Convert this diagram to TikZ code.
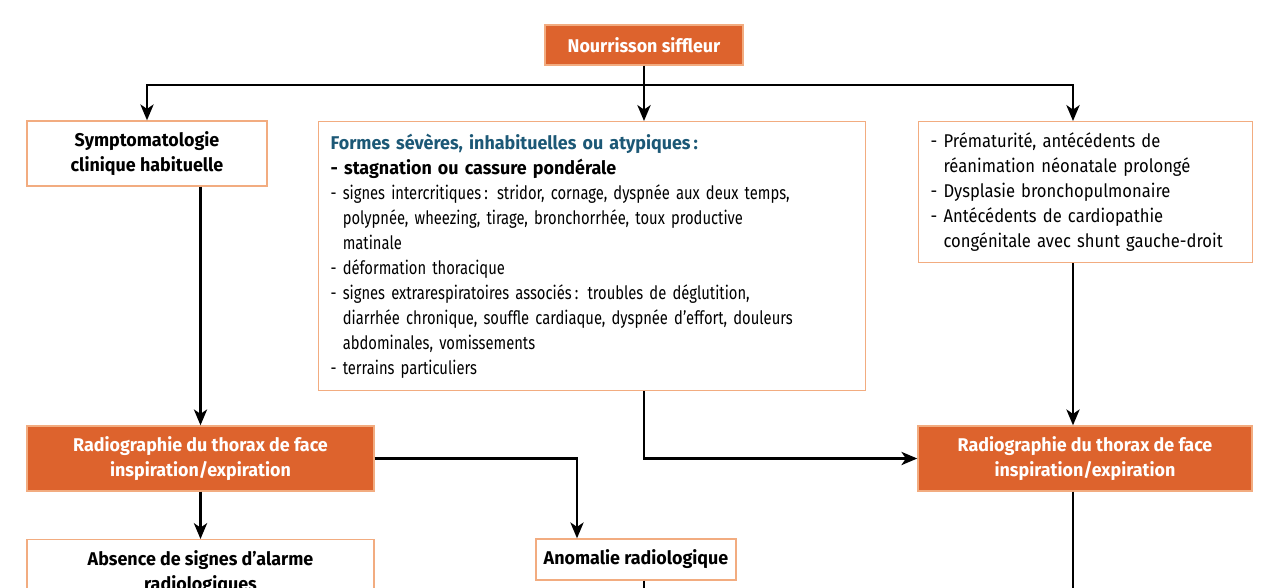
\documentclass[tikz,border=0pt]{standalone}
\usepackage{fontspec}
\setmainfont{Fira Sans}[UprightFeatures={FakeStretch=0.80}, BoldFeatures={FakeStretch=0.97}]
\newfontfamily\policelarge{Fira Sans}[FakeStretch=0.90]
\usepackage{xcolor}
\usepackage{tikz}
\definecolor{orangefonce}{RGB}{221, 99, 45}
\definecolor{orangeclair}{RGB}{242, 172, 128}
\definecolor{bleutitre}{RGB}{28, 88, 118}
\usetikzlibrary{arrows.meta, positioning, calc}
\newcommand{\retrait}{\hphantom{-\ }}

\begin{document}
\begin{tikzpicture}[
    orangebox/.style={rectangle, draw=orangeclair, line width=0.8pt, fill=orangefonce, text=white, font=\fontsize{10.5}{14.2}\selectfont\bfseries, align=center},
    blancbox/.style={rectangle, draw=orangeclair, line width=0.8pt, fill=white, font=\fontsize{10.5}{14.2}\selectfont\bfseries, align=center},
    listebox/.style={rectangle, draw=orangeclair, line width=0.8pt, fill=white, font=\fontsize{10.5}{14.2}\selectfont, align=left, anchor=north west, inner xsep=0.24cm},
    trait/.style={line width=1.4pt},
    fleche/.style={-{Stealth[length=9pt, width=7.5pt, inset=2.5pt]}, line width=1.4pt}
]
    \path[use as bounding box, clip] (0,0) rectangle (25.6,-11.74);

    % Depart
    \node[orangebox, minimum width=3.96cm, minimum height=0.8cm] (nourrisson) at (12.88,-0.9) {Nourrisson siffleur};

    % Trois situations
    \node[blancbox, minimum width=4.8cm, minimum height=1.3cm] (sympto) at (2.94,-3.07) {Symptomatologie\\clinique habituelle};
    \node[listebox, text width=10.46cm, minimum height=5.38cm] (formes) at (6.36,-2.42) {%
        {\color{bleutitre}\bfseries Formes sévères, inhabituelles ou atypiques\,:}\\
        \textbf{- stagnation ou cassure pondérale}\\
        - signes intercritiques\,: stridor, cornage, dyspnée aux deux temps,\\
        \retrait polypnée, wheezing, tirage, bronchorrhée, toux productive\\
        \retrait matinale\\
        - déformation thoracique\\
        - signes extrarespiratoires associés\,: troubles de déglutition,\\
        \retrait diarrhée chronique, souffle cardiaque, dyspnée d’effort, douleurs\\
        \retrait abdominales, vomissements\\
        - terrains particuliers};
    \node[listebox, text width=6.2cm, minimum height=2.82cm, font=\fontsize{10.5}{14.2}\policelarge] (terrain) at (18.36,-2.42) {%
        - Prématurité, antécédents de\\
        \retrait réanimation néonatale prolongé\\
        - Dysplasie bronchopulmonaire\\
        - Antécédents de cardiopathie\\
        \retrait congénitale avec shunt gauche-droit};

    % Radiographies
    \node[orangebox, minimum width=6.94cm, minimum height=1.3cm] (radioG) at (4.01,-9.17) {Radiographie du thorax de face\\inspiration/expiration};
    \node[orangebox, minimum width=6.68cm, minimum height=1.3cm] (radioD) at (21.70,-9.17) {Radiographie du thorax de face\\inspiration/expiration};

    % Resultats
    \node[blancbox, minimum width=6.94cm, minimum height=1.3cm, anchor=north] (absence) at (4.01,-10.78) {Absence de signes d’alarme\\radiologiques};
    \node[blancbox, minimum width=4.0cm, minimum height=0.82cm] (anomalie) at (12.72,-11.19) {Anomalie radiologique};

    % Connecteurs
    \coordinate (bus) at (12.88,-1.7);
    \coordinate (colD) at (21.46,-1.7);
    \draw[trait] (nourrisson.south) -- (bus);
    \draw[fleche] (bus) -| (sympto.north);
    \draw[fleche] (bus) -- (formes.north -| bus);
    \draw[fleche] (bus) -| (terrain.north -| colD);
    \draw[fleche] (sympto.south -| radioG) -- (radioG.north);
    \draw[fleche] (radioG.south) -- (absence.north);
    \draw[fleche] (radioG.east) -| ($(anomalie.north)+(-1.18,0)$);
    \draw[fleche] (formes.south -| bus) |- (radioD.west);
    \draw[fleche] (terrain.south -| colD) -- (radioD.north -| colD);
    \draw[trait] (radioD.south -| colD) -- ++(0,-3);
    \draw[trait] (anomalie.south -| bus) -- ++(0,-1);
\end{tikzpicture}
\end{document}
